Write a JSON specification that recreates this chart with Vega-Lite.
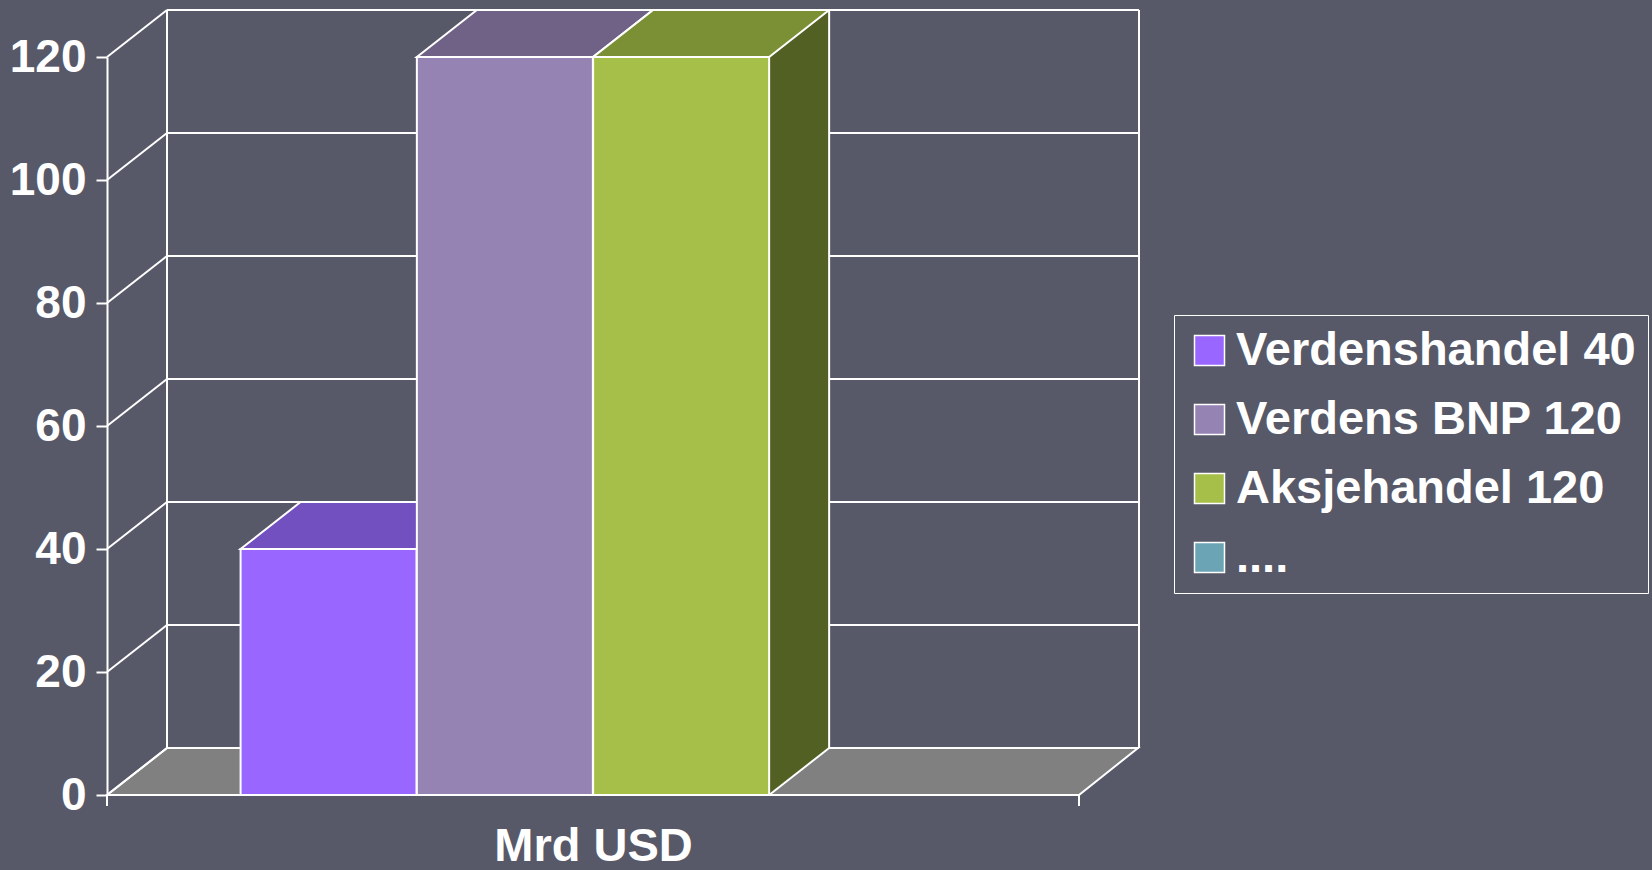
{
  "$schema": "https://vega.github.io/schema/vega-lite/v6.json",
  "width": 972,
  "height": 738,
  "autosize": "none",
  "padding": {"left": 107, "top": 57, "right": 573, "bottom": 75},
  "background": "#575969",
  "config": {
    "view": {"stroke": null},
    "font": "Liberation Sans",
    "axisY": {
      "domainColor": "white", "domainWidth": 2,
      "tickColor": "white", "tickWidth": 2, "tickSize": 11,
      "labelColor": "white", "labelFontSize": 46, "labelFontWeight": "bold",
      "labelPadding": 10, "grid": false, "tickCount": 6
    },
    "axisX": {
      "domain": false, "ticks": false, "labels": false, "grid": false,
      "titleColor": "white", "titleFontSize": 47, "titleFontWeight": "bold",
      "titlePadding": 28
    }
  },
  "datasets": {
    "series": [
      {"series": "Verdenshandel 40", "value": 40},
      {"series": "Verdens BNP 120", "value": 120},
      {"series": "Aksjehandel 120", "value": 120},
      {"series": "....", "value": null}
    ],
    "ticks": [{"t": 0}, {"t": 20}, {"t": 40}, {"t": 60}, {"t": 80}, {"t": 100}, {"t": 120}]
  },
  "layer": [
    {
      "data": {"values": [{}]},
      "mark": {"type": "point", "shape": "M0,0L972,0L1031,-47L60,-47Z", "size": 4, "filled": true, "fill": "#808080", "stroke": "white", "strokeWidth": 2, "opacity": 1},
      "encoding": {
        "x": {"datum": -0.257, "type": "quantitative", "scale": {"domain": [-0.257, 5.257], "nice": false, "zero": false, "padding": 0}, "title": "Mrd USD"},
        "y": {"datum": 0, "type": "quantitative", "scale": {"domain": [0, 120], "nice": false, "padding": 0}, "title": null}
      }
    },
    {
      "data": {"name": "ticks"},
      "mark": {"type": "rule", "color": "white", "strokeWidth": 2, "xOffset": 60, "x2Offset": 60, "yOffset": -47},
      "encoding": {
        "x": {"datum": -0.257, "type": "quantitative", "title": "Mrd USD"},
        "x2": {"datum": 5.257},
        "y": {"field": "t", "type": "quantitative", "title": null}
      }
    },
    {
      "data": {"name": "ticks"},
      "mark": {"type": "rule", "color": "white", "strokeWidth": 2, "x2Offset": 60, "y2Offset": -47},
      "encoding": {
        "x": {"datum": -0.257, "type": "quantitative", "title": "Mrd USD"},
        "x2": {"datum": -0.257},
        "y": {"field": "t", "type": "quantitative", "title": null},
        "y2": {"field": "t"}
      }
    },
    {
      "data": {"values": [{}]},
      "mark": {"type": "rule", "color": "white", "strokeWidth": 2, "xOffset": 60, "yOffset": -47, "y2Offset": -47},
      "encoding": {
        "x": {"datum": -0.257, "type": "quantitative", "title": "Mrd USD"},
        "y": {"datum": 0, "type": "quantitative", "title": null},
        "y2": {"datum": 120}
      }
    },
    {
      "data": {"values": [{}]},
      "mark": {"type": "rule", "color": "white", "strokeWidth": 2, "xOffset": 60, "yOffset": -47, "y2Offset": -47},
      "encoding": {
        "x": {"datum": 5.257, "type": "quantitative", "title": "Mrd USD"},
        "y": {"datum": 0, "type": "quantitative", "title": null},
        "y2": {"datum": 120}
      }
    },
    {
      "data": {"values": [{}]},
      "mark": {"type": "rule", "color": "white", "strokeWidth": 2, "y2Offset": 11},
      "encoding": {
        "x": {"datum": -0.257, "type": "quantitative", "title": "Mrd USD"},
        "y": {"datum": 0, "type": "quantitative", "title": null},
        "y2": {"datum": 0}
      }
    },
    {
      "data": {"values": [{}]},
      "mark": {"type": "rule", "color": "white", "strokeWidth": 2, "y2Offset": 11},
      "encoding": {
        "x": {"datum": 5.257, "type": "quantitative", "title": "Mrd USD"},
        "y": {"datum": 0, "type": "quantitative", "title": null},
        "y2": {"datum": 0}
      }
    },
    {
      "data": {"name": "series"},
      "transform": [
        {"window": [{"op": "row_number", "as": "slot"}]},
        {"filter": {"field": "value", "valid": true}}
      ],
      "layer": [
        {
          "mark": {"type": "bar", "orient": "vertical", "width": 60, "xOffset": 118, "yOffset": -47, "y2Offset": -47},
          "encoding": {
            "x": {"field": "slot", "type": "quantitative", "title": "Mrd USD"},
            "y": {"field": "value", "type": "quantitative", "title": null},
            "y2": {"datum": 0},
            "fill": {"field": "series", "type": "nominal", "legend": null,
              "scale": {"domain": ["Verdenshandel 40", "Verdens BNP 120", "Aksjehandel 120", "...."], "range": ["#4d3380", "#4a425a", "#536023", "#365a5b"]}}
          }
        },
        {
          "mark": {"type": "point", "shape": "M88,-47L88,0L148,-47Z", "size": 4, "filled": true, "opacity": 1, "strokeWidth": 0},
          "encoding": {
            "x": {"field": "slot", "type": "quantitative", "title": "Mrd USD"},
            "y": {"datum": 0, "type": "quantitative", "title": null},
            "fill": {"field": "series", "type": "nominal", "legend": null,
              "scale": {"domain": ["Verdenshandel 40", "Verdens BNP 120", "Aksjehandel 120", "...."], "range": ["#4d3380", "#4a425a", "#536023", "#365a5b"]}}
          }
        },
        {
          "mark": {"type": "rule", "color": "white", "strokeWidth": 2, "xOffset": 148, "yOffset": -47, "y2Offset": -47},
          "encoding": {
            "x": {"field": "slot", "type": "quantitative", "title": "Mrd USD"},
            "y": {"field": "value", "type": "quantitative", "title": null},
            "y2": {"datum": 0}
          }
        },
        {
          "mark": {"type": "rule", "color": "white", "strokeWidth": 2, "xOffset": 88, "x2Offset": 148, "y2Offset": -47},
          "encoding": {
            "x": {"field": "slot", "type": "quantitative", "title": "Mrd USD"},
            "x2": {"field": "slot"},
            "y": {"datum": 0, "type": "quantitative", "title": null},
            "y2": {"datum": 0}
          }
        },
        {
          "mark": {"type": "point", "shape": "M-88,0L88,0L148,-47L-28,-47Z", "size": 4, "filled": true, "opacity": 1, "stroke": "white", "strokeWidth": 2},
          "encoding": {
            "x": {"field": "slot", "type": "quantitative", "title": "Mrd USD"},
            "y": {"field": "value", "type": "quantitative", "title": null},
            "fill": {"field": "series", "type": "nominal", "legend": null,
              "scale": {"domain": ["Verdenshandel 40", "Verdens BNP 120", "Aksjehandel 120", "...."], "range": ["#7350c0", "#6f6286", "#7b8f35", "#507c88"]}}
          }
        },
        {
          "mark": {"type": "bar", "orient": "vertical", "width": 176, "stroke": "white", "strokeWidth": 2},
          "encoding": {
            "x": {"field": "slot", "type": "quantitative", "title": "Mrd USD"},
            "y": {"field": "value", "type": "quantitative", "title": null},
            "y2": {"datum": 0},
            "color": {"field": "series", "type": "nominal",
              "scale": {"domain": ["Verdenshandel 40", "Verdens BNP 120", "Aksjehandel 120", "...."], "range": ["#9966ff", "#9483b3", "#a5bf48", "#6ba5b5"]},
              "legend": {
                "orient": "none", "legendX": 1067, "legendY": 258, "title": null,
                "strokeColor": "white", "padding": 12,
                "labelColor": "white", "labelFontSize": 47, "labelFontWeight": "bold", "labelFont": "Liberation Sans",
                "labelOffset": 3, "labelLimit": 0,
                "symbolType": "square", "symbolSize": 900, "symbolStrokeColor": "white", "symbolStrokeWidth": 1.5, "symbolOpacity": 1,
                "rowPadding": 21
              }}
          }
        }
      ],
      "resolve": {"scale": {"fill": "independent"}}
    }
  ]
}
